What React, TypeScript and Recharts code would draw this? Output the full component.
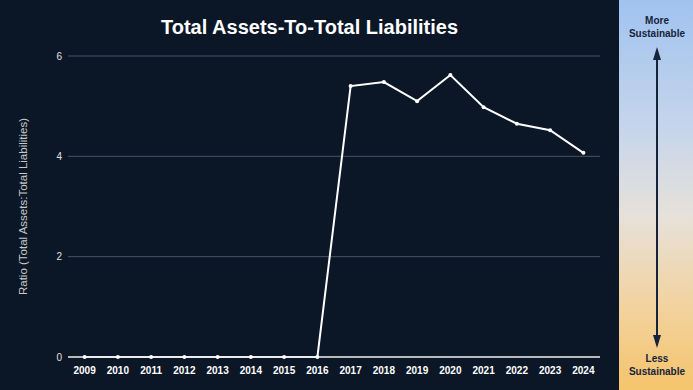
import { CartesianGrid, Line, LineChart, XAxis, YAxis } from 'recharts';

const years = [
  '2009', '2010', '2011', '2012', '2013', '2014', '2015', '2016',
  '2017', '2018', '2019', '2020', '2021', '2022', '2023', '2024',
];
const ratio = [0, 0, 0, 0, 0, 0, 0, 0, 5.4, 5.48, 5.1, 5.62, 4.98, 4.65, 4.52, 4.07];
const yTicks = [0, 2, 4, 6];

const data = years.map((year, i) => ({ year, ratio: ratio[i] }));

const BG = '#0b1727';
const FONT = 'Liberation Sans, Arial, sans-serif';

export default function App() {
  return (
    <div
      style={{
        position: 'fixed',
        left: 0,
        top: 0,
        width: 693,
        height: 390,
        background: BG,
        fontFamily: FONT,
        overflow: 'hidden',
      }}
    >
      <div
        style={{
          position: 'absolute',
          left: 0,
          width: 619,
          top: 16,
          textAlign: 'center',
          color: '#fff',
          fontWeight: 'bold',
          fontSize: 20,
        }}
      >
        Total Assets-To-Total Liabilities
      </div>

      <LineChart
        width={619}
        height={390}
        data={data}
        margin={{ top: 56, right: 19, bottom: 3, left: 0 }}
      >
        <CartesianGrid vertical={false} stroke="#485466" strokeWidth={1} />
        <XAxis
          dataKey="year"
          scale="band"
          axisLine={{ stroke: '#e6e6e6', strokeWidth: 1.5 }}
          tickLine={false}
          tickMargin={4}
          tick={{ fill: '#fff', fontSize: 10, fontWeight: 'bold', fontFamily: FONT }}
          interval={0}
        />
        <YAxis
          width={68}
          domain={[0, 6]}
          ticks={yTicks}
          axisLine={false}
          tickLine={false}
          tickMargin={0}
          tick={{ fill: '#e0e0e0', fontSize: 10, fontFamily: FONT }}
          label={{
            value: 'Ratio (Total Assets:Total Liabilities)',
            angle: -90,
            position: 'center',
            dx: -11,
            fill: '#c8c8c8',
            fontSize: 11.5,
            fontFamily: FONT,
          }}
        />
        <Line
          dataKey="ratio"
          type="linear"
          stroke="#fff"
          strokeWidth={2}
          dot={{ r: 2, fill: '#fff', stroke: 'none' }}
          isAnimationActive={false}
        />
      </LineChart>

      <div
        style={{
          position: 'absolute',
          left: 619,
          top: 0,
          width: 74,
          height: 390,
          background: 'linear-gradient(to bottom, #a0c3f0 0%, #c9d6ea 35%, #e6e1da 55%, #f2d3a0 78%, #f5c46c 100%)',
        }}
      >
        <svg width={74} height={390} style={{ position: 'absolute', left: 0, top: 0 }}>
          <g fill="#15233b" fontFamily={FONT} fontWeight="bold" fontSize={10} textAnchor="middle">
            <text x={38} y={24}>More</text>
            <text x={38} y={37}>Sustainable</text>
            <text x={38} y={362}>Less</text>
            <text x={38} y={375}>Sustainable</text>
          </g>
          <line x1={38} y1={56} x2={38} y2={338} stroke="#15233b" strokeWidth={2} />
          <polygon points="38,47 34,60 42,60" fill="#15233b" />
          <polygon points="38,348 34,335 42,335" fill="#15233b" />
        </svg>
      </div>
    </div>
  );
}
